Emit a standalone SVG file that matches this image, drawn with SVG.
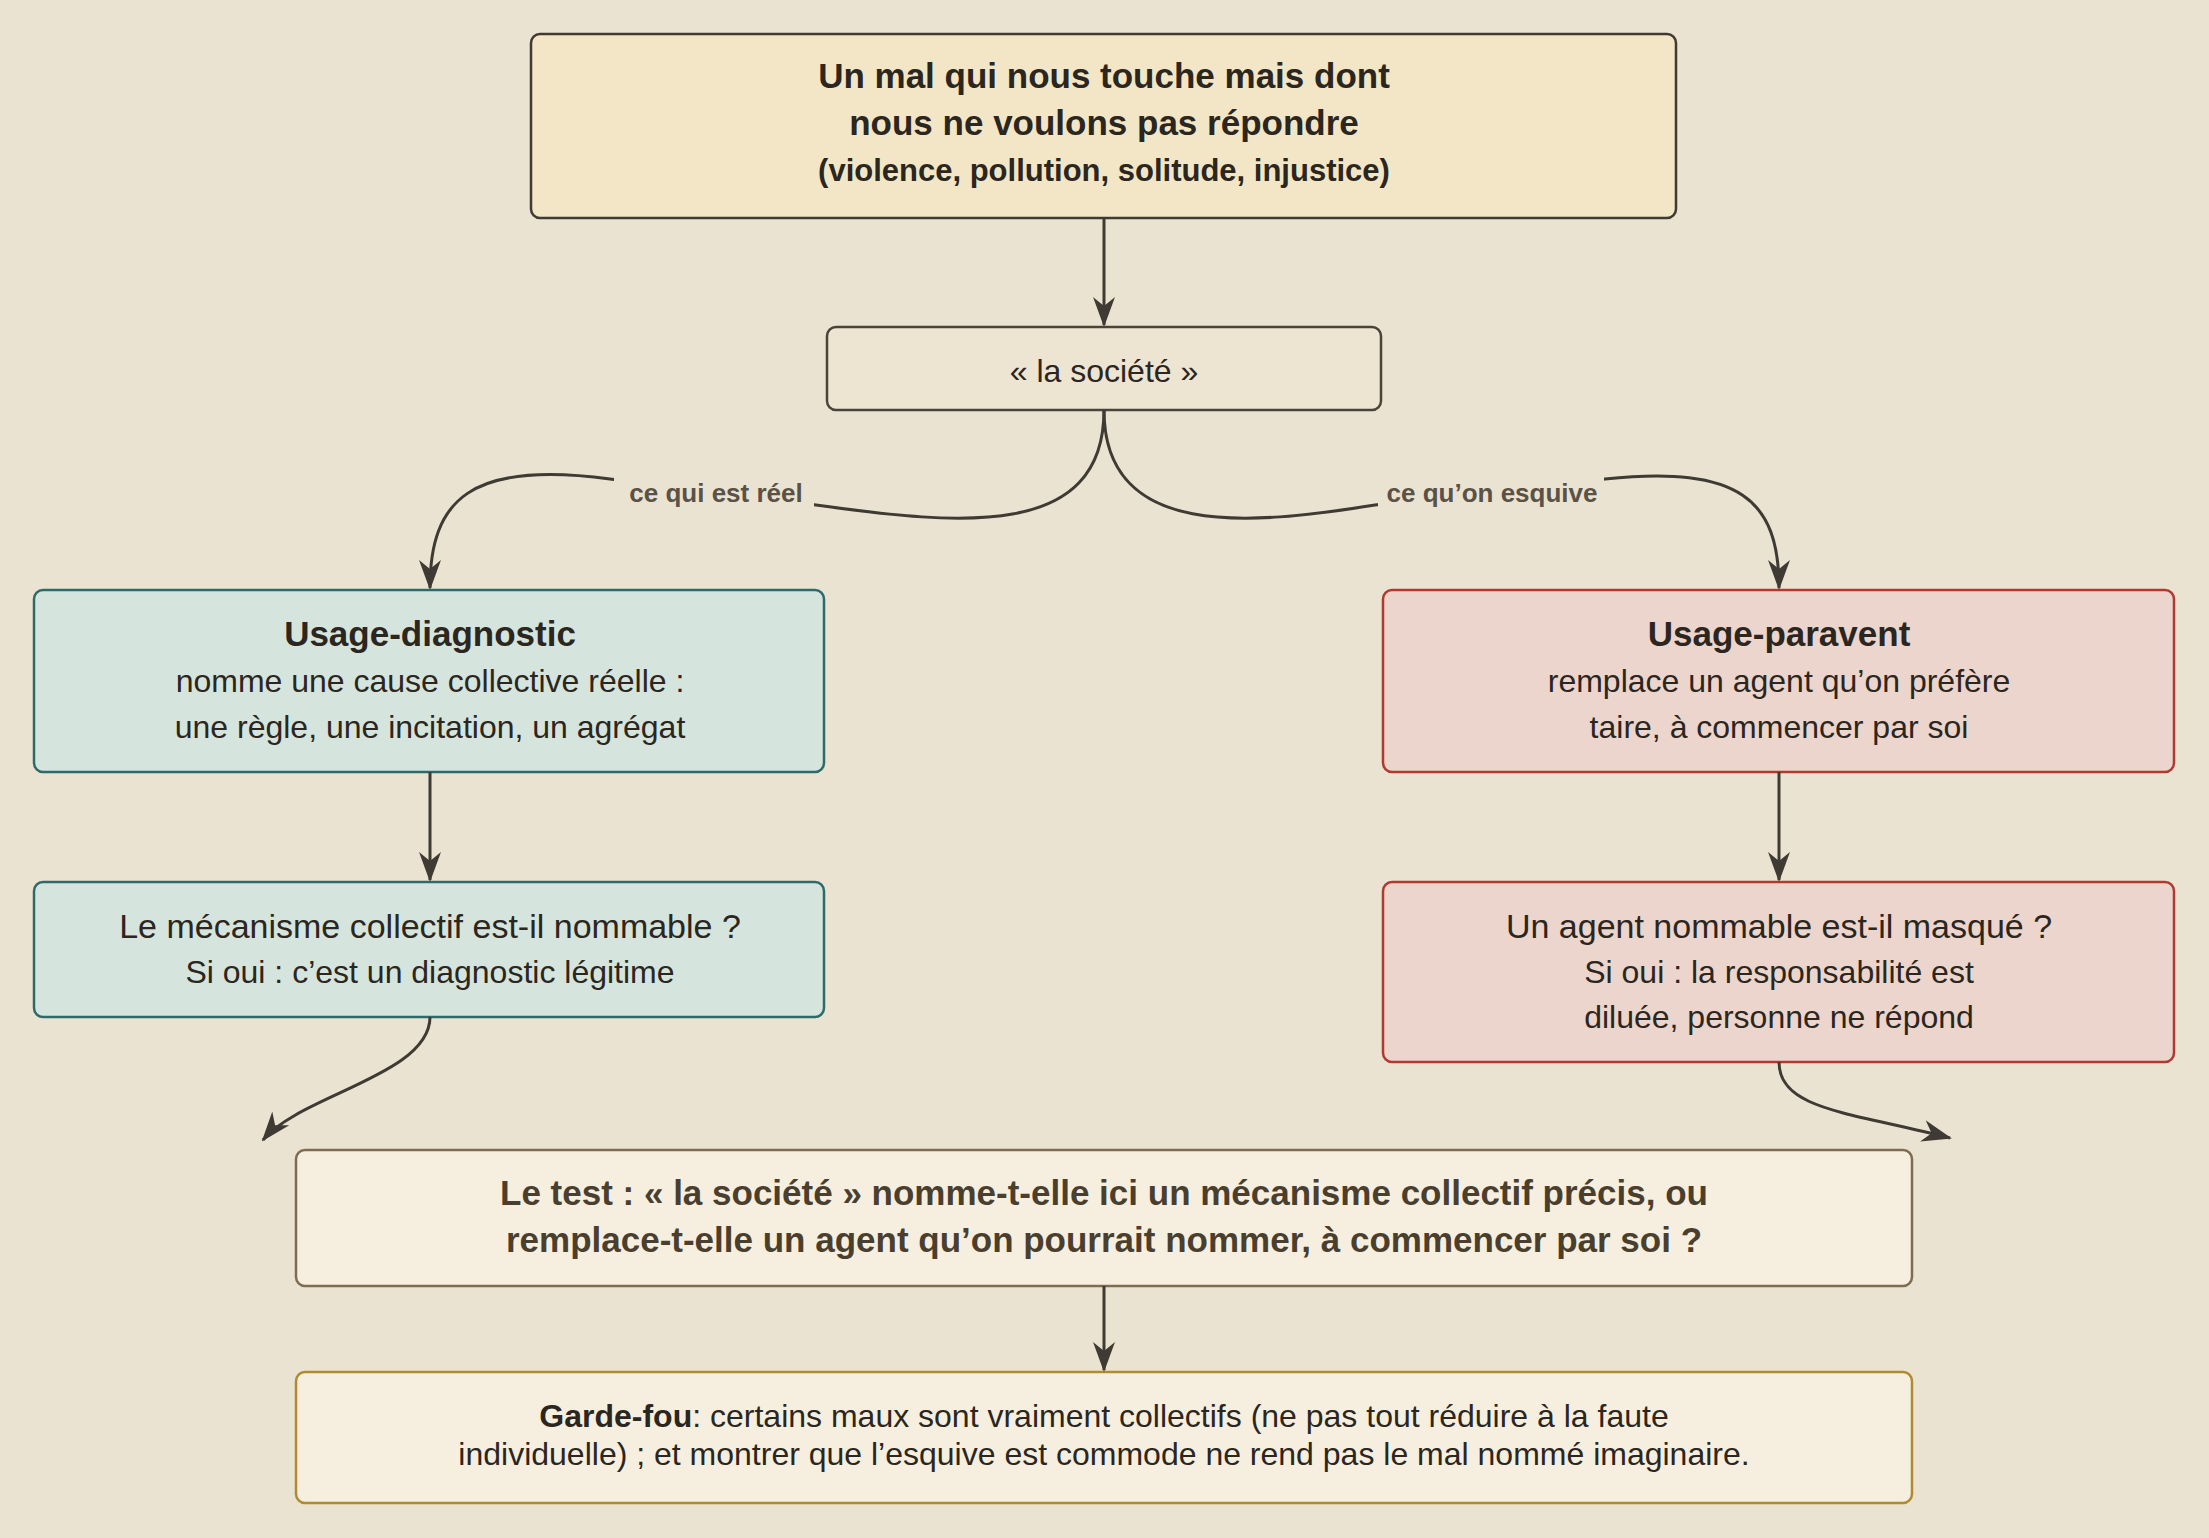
<svg xmlns="http://www.w3.org/2000/svg" width="2209" height="1538" viewBox="0 0 2209 1538">
<style>
text{font-family:"Liberation Sans",Arial,sans-serif;text-anchor:middle;fill:#2b2620}
.b{font-weight:bold}
.t{font-size:35px}
.n{font-size:32px}
.l{font-size:26px;font-weight:bold;fill:#5a5246}
.e{fill:none;stroke:#3f3a33;stroke-width:3}
</style>
<defs>
<marker id="a" viewBox="0 0 30 24" refX="28" refY="12" markerWidth="30" markerHeight="24" markerUnits="userSpaceOnUse" orient="auto">
<path d="M0,1 L30,12 L0,23 L9,12 Z" fill="#3f3a33"/>
</marker>
</defs>
<rect width="2209" height="1538" fill="#ebe3d1"/>
<g id="top"><rect x="531" y="34" width="1145" height="184" rx="9" fill="#f2e6c6" stroke="#3f3a33" stroke-width="2.5"/>
<text class="b t" x="1104" y="88">Un mal qui nous touche mais dont</text>
<text class="b t" x="1104" y="135">nous ne voulons pas répondre</text>
<text class="b" font-size="31" x="1104" y="181">(violence, pollution, solitude, injustice)</text></g>
<g id="societe"><rect x="827" y="327" width="554" height="83" rx="9" fill="#ede4d2" stroke="#4a4339" stroke-width="2.5"/>
<text class="n" x="1104" y="382">« la société »</text></g>
<g id="diag"><rect x="34" y="590" width="790" height="182" rx="9" fill="#d6e4de" stroke="#2d6b6b" stroke-width="2.5"/>
<text class="b t" x="430" y="646">Usage-diagnostic</text>
<text class="n" x="430" y="692">nomme une cause collective réelle :</text>
<text class="n" x="430" y="738">une règle, une incitation, un agrégat</text></g>
<g id="paravent"><rect x="1383" y="590" width="791" height="182" rx="9" fill="#ecd5cc" stroke="#b03a32" stroke-width="2.5"/>
<text class="b t" x="1779" y="646">Usage-paravent</text>
<text class="n" x="1779" y="692">remplace un agent qu’on préfère</text>
<text class="n" x="1779" y="738">taire, à commencer par soi</text></g>
<g id="mecanisme"><rect x="34" y="882" width="790" height="135" rx="9" fill="#d6e4de" stroke="#2d6b6b" stroke-width="2.5"/>
<text x="430" y="938" font-size="34">Le mécanisme collectif est-il nommable ?</text>
<text class="n" x="430" y="983">Si oui :  c’est un diagnostic légitime</text></g>
<g id="agent"><rect x="1383" y="882" width="791" height="180" rx="9" fill="#ecd5cc" stroke="#b03a32" stroke-width="2.5"/>
<text x="1779" y="938" font-size="34">Un agent nommable est-il masqué ?</text>
<text class="n" x="1779" y="983">Si oui :  la responsabilité est</text>
<text class="n" x="1779" y="1028">diluée, personne ne répond</text></g>
<g id="test"><rect x="296" y="1150" width="1616" height="136" rx="9" fill="#f6efdf" stroke="#7d6c50" stroke-width="2.5"/>
<text class="b t" x="1104" y="1205" style="fill:#4a3f2e">Le test :  « la société » nomme-t-elle ici un mécanisme collectif précis, ou</text>
<text class="b t" x="1104" y="1252" style="fill:#4a3f2e">remplace-t-elle un agent qu’on pourrait nommer, à commencer par soi ?</text></g>
<g id="garde"><rect x="296" y="1372" width="1616" height="131" rx="9" fill="#f6efdf" stroke="#b08a30" stroke-width="2.5"/>
<text class="n" x="1104" y="1427"><tspan class="b">Garde-fou</tspan>:  certains maux sont vraiment collectifs (ne pas tout réduire à la faute</text>
<text class="n" x="1104" y="1465">individuelle) ; et montrer que l’esquive est commode ne rend pas le mal nommé imaginaire.</text></g>
<g id="connectors">
<path class="e" d="M1104,218 L1104,325" marker-end="url(#a)"/>
<path class="e" d="M1104,410 C1104,540 960,525 816,505 L610,479 C470,460 430,500 430,588" marker-end="url(#a)"/>
<path class="e" d="M1104,410 C1104,540 1250,525 1375,505 L1605,479 C1740,465 1779,500 1779,588" marker-end="url(#a)"/>
<path class="e" d="M430,772 L430,880" marker-end="url(#a)"/>
<path class="e" d="M1779,772 L1779,880" marker-end="url(#a)"/>
<path class="e" d="M430,1017 C430,1075 300,1095 263,1140" marker-end="url(#a)"/>
<path class="e" d="M1779,1062 C1779,1110 1850,1112 1950,1138" marker-end="url(#a)"/>
<path class="e" d="M1104,1286 L1104,1370" marker-end="url(#a)"/>
<rect x="614" y="472" width="200" height="40" fill="#ebe3d1"/>
<text class="l" x="716" y="502">ce qui est réel</text>
<rect x="1378" y="472" width="226" height="40" fill="#ebe3d1"/>
<text class="l" x="1492" y="502">ce qu’on esquive</text>
</g>
</svg>
